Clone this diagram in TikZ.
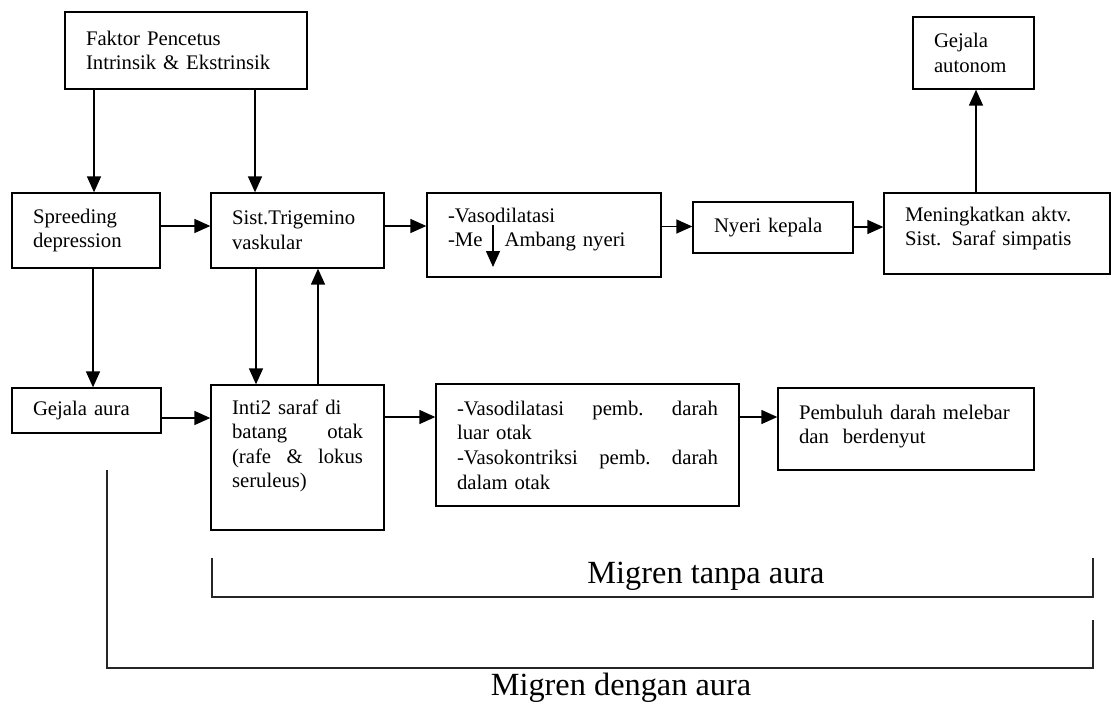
\documentclass[tikz,border=0pt]{standalone}
\usepackage{fontspec}
\setmainfont{Liberation Serif}
\usetikzlibrary{arrows.meta}
\hyphenpenalty=10000

\begin{document}
\begin{tikzpicture}[
  box/.style={rectangle, draw, line width=0.75pt, align=left, inner xsep=0.42cm, inner ysep=0pt, font=\fontsize{11.8}{14}\selectfont},
  edge/.style={-{Triangle[length=0.32cm, width=0.28cm]}, line width=0.8pt},
  bracketline/.style={line width=0.6pt, draw=black!85},
  lbl/.style={font=\fontsize{18.4}{22}\selectfont, inner sep=0pt}
]
\useasboundingbox (0,0) rectangle (22.22,-14.08);
% upper row
\node[box, text width=4.00cm, minimum height=1.54cm] (faktor) at (3.72,-1.01) {Faktor Pencetus\\Intrinsik \& Ekstrinsik};
\node[box, text width=2.12cm, minimum height=1.50cm] (spread) at (1.72,-4.61) {Spreeding\\depression};
\node[box, text width=2.62cm, minimum height=1.50cm] (trig) at (5.95,-4.61) {Sist.Trigemino\\vaskular};
\node[box, text width=3.84cm, minimum height=1.68cm, text height=0.3cm, text depth=0.82cm] (vaso) at (10.88,-4.70) {-Vasodilatasi\\-Me\hspace{0.44cm}Ambang nyeri};
\node[box, text width=2.36cm, minimum height=1.02cm] (nyeri) at (15.46,-4.55) {Nyeri kepala};
\node[box, text width=3.68cm, minimum height=1.62cm, text height=0.3cm, text depth=0.80cm] (saraf) at (19.94,-4.67) {Meningkatkan aktv.\\Sist. Saraf simpatis};
\node[box, text width=1.58cm, minimum height=1.44cm] (auto) at (19.47,-1.06) {Gejala\\autonom};
% lower row
\node[box, text width=2.14cm, minimum height=0.90cm] (aura) at (1.73,-8.21) {Gejala aura};
\node[box, text width=2.62cm, minimum height=2.90cm, text height=0.3cm, text depth=2.04cm] (inti) at (5.95,-9.15) {Inti2 saraf di\\batang\hfill otak\\(rafe\hfill\&\hfill lokus\\seruleus)};
\node[box, text width=5.22cm, minimum height=2.44cm] (vaso2) at (11.75,-8.90) {-Vasodilatasi\hfill pemb.\hfill darah\\luar otak\\-Vasokontriksi\hfill pemb.\hfill darah\\dalam otak};
\node[box, text width=4.28cm, minimum height=1.64cm, text height=0.3cm, text depth=0.70cm] (pemb) at (18.12,-8.58) {Pembuluh darah melebar\\dan~ berdenyut};

\draw[edge] (faktor.south -| 1.88,0) -- (spread.north -| 1.88,0);
\draw[edge] (faktor.south -| 5.10,0) -- (trig.north -| 5.10,0);
\draw[edge] (spread.east |- 0,-4.52) -- (trig.west |- 0,-4.52);
\draw[edge] (trig.east |- 0,-4.52) -- (vaso.west |- 0,-4.52);
\draw[edge] (vaso.east |- 0,-4.53) -- (nyeri.west |- 0,-4.53);
\draw[edge] (nyeri.east |- 0,-4.54) -- (saraf.west |- 0,-4.54);
\draw[edge] (saraf.north -| 19.52,0) -- (auto.south -| 19.52,0);
\draw[edge] ([shift={(-1.02,0.2)}]vaso.center) -- ([shift={(-1.02,-0.64)}]vaso.center);
\draw[edge] (spread.south -| 1.86,0) -- (aura.north -| 1.86,0);
\draw[edge] (trig.south -| 5.12,0) -- (inti.north -| 5.12,0);
\draw[edge] (inti.north -| 6.36,0) -- (trig.south -| 6.36,0);
\draw[edge] (aura.east |- 0,-8.36) -- (inti.west |- 0,-8.36);
\draw[edge] (inti.east |- 0,-8.34) -- (vaso2.west |- 0,-8.34);
\draw[edge] (vaso2.east |- 0,-8.34) -- (pemb.west |- 0,-8.34);

% migren brackets
\draw[bracketline] (4.24,-11.16) -- (4.24,-11.94) -- (21.86,-11.94) -- (21.86,-11.16);
\draw[bracketline] (2.14,-9.40) -- (2.14,-13.36) -- (21.86,-13.36) -- (21.86,-12.40);
\node[lbl] (tanpa) at (14.12,-11.52) {Migren tanpa aura};
\node[lbl] (dengan) at (12.42,-13.76) {Migren dengan aura};
\end{tikzpicture}
\end{document}
